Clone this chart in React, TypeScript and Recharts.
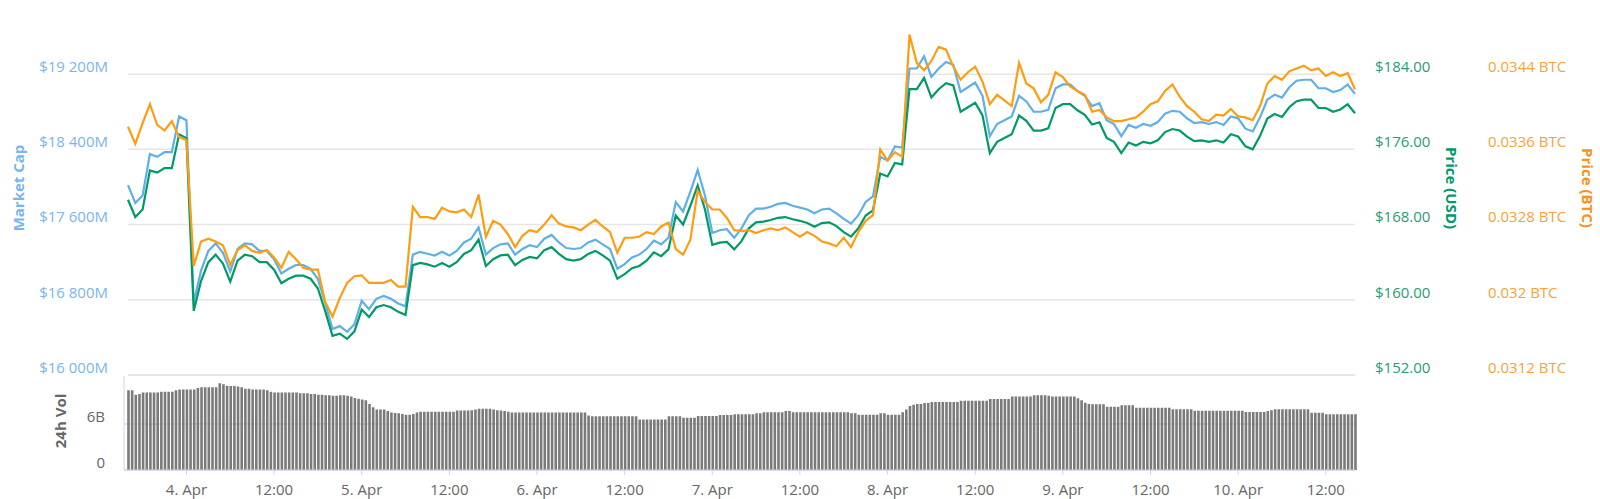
// ETH 7-day overview: market cap + USD/BTC price on three y-axes, 24h volume pane below.
// One point per hour (index = hours since 3 Apr 16:00), volume one bar per half hour.

import { Bar, CartesianGrid, ComposedChart, Line, ReferenceLine, XAxis, YAxis } from "recharts";

const FONT = '"Open Sans", "Noto Sans", sans-serif';

const marketCap = [
  18020, 17830, 17910, 18350, 18320, 18370, 18370, 18750, 18710, 16770, 17110, 17320,
  17400, 17300, 17100, 17340, 17400, 17390, 17320, 17320, 17230, 17080, 17130, 17170,
  17170, 17130, 17020, 16770, 16490, 16520, 16460, 16540, 16790, 16700, 16810, 16840,
  16810, 16760, 16730, 17280, 17310, 17290, 17270, 17310, 17270, 17320, 17410, 17450,
  17570, 17280, 17350, 17390, 17400, 17280, 17340, 17380, 17360, 17450, 17490, 17410,
  17350, 17340, 17350, 17410, 17440, 17390, 17340, 17130, 17180, 17250, 17280, 17340,
  17430, 17390, 17460, 17840, 17740, 17950, 18180, 17910, 17510, 17540, 17550, 17460,
  17560, 17700, 17770, 17770, 17790, 17820, 17830, 17800, 17780, 17760, 17720, 17760,
  17770, 17720, 17660, 17610, 17700, 17840, 17900, 18320, 18280, 18430, 18420, 19260,
  19260, 19390, 19170, 19260, 19330, 19300, 19010, 19060, 19110, 18970, 18540, 18670,
  18710, 18750, 18970, 18910, 18800, 18800, 18820, 19050, 19090, 19090, 19020, 18970,
  18860, 18890, 18710, 18670, 18540, 18660, 18630, 18670, 18650, 18690, 18780, 18810,
  18800, 18730, 18680, 18690, 18670, 18690, 18660, 18750, 18730, 18620, 18590, 18740,
  18930, 18980, 18950, 19060, 19130, 19140, 19140, 19050, 19050, 19010, 19030, 19090,
  18990,
];

const priceUsd = [
  170.64, 168.8, 169.6, 173.76, 173.52, 174.0, 174.0, 177.6, 177.2, 158.8, 162.0, 164.0,
  164.8, 163.84, 161.92, 164.16, 164.8, 164.64, 164.0, 164.0, 163.2, 161.76, 162.24, 162.56,
  162.56, 162.24, 161.2, 158.8, 156.16, 156.4, 155.84, 156.64, 158.96, 158.16, 159.2, 159.44,
  159.2, 158.72, 158.4, 163.68, 163.92, 163.76, 163.52, 163.92, 163.52, 164.0, 164.88, 165.28,
  166.4, 163.6, 164.32, 164.72, 164.8, 163.68, 164.24, 164.56, 164.4, 165.28, 165.6, 164.88,
  164.32, 164.16, 164.32, 164.88, 165.2, 164.72, 164.16, 162.24, 162.72, 163.36, 163.6, 164.16,
  165.04, 164.64, 165.36, 168.96, 168.0, 170.0, 172.16, 169.6, 165.84, 166.08, 166.16, 165.36,
  166.24, 167.6, 168.24, 168.32, 168.48, 168.72, 168.8, 168.56, 168.4, 168.16, 167.76, 168.16,
  168.24, 167.84, 167.2, 166.72, 167.6, 168.96, 169.52, 173.44, 173.12, 174.56, 174.4, 182.4,
  182.4, 183.6, 181.52, 182.4, 183.04, 182.8, 180.0, 180.48, 180.96, 179.6, 175.6, 176.8,
  177.2, 177.6, 179.6, 179.04, 178.0, 178.0, 178.24, 180.4, 180.8, 180.8, 180.16, 179.68,
  178.64, 178.88, 177.2, 176.8, 175.6, 176.72, 176.4, 176.8, 176.64, 176.96, 177.84, 178.16,
  178.0, 177.36, 176.88, 176.96, 176.8, 176.96, 176.72, 177.6, 177.36, 176.32, 176.0, 177.44,
  179.28, 179.76, 179.44, 180.48, 181.12, 181.28, 181.28, 180.4, 180.4, 180.0, 180.24, 180.8,
  179.84,
];

const priceBtc = [
  0.03384, 0.03366, 0.03388, 0.03408, 0.03386, 0.0338, 0.0339, 0.03373, 0.0337, 0.03236, 0.03262, 0.03265,
  0.03262, 0.03258, 0.03237, 0.03253, 0.03258, 0.03252, 0.0325, 0.03253, 0.03245, 0.03234, 0.03251, 0.03243,
  0.03234, 0.03232, 0.03232, 0.03198, 0.03182, 0.03202, 0.03218, 0.03225, 0.03226, 0.03218, 0.03218, 0.03218,
  0.03221, 0.03214, 0.03214, 0.03299, 0.03288, 0.03288, 0.03286, 0.03298, 0.03294, 0.03293, 0.03296, 0.03288,
  0.03312, 0.03267, 0.03284, 0.0328, 0.0327, 0.03256, 0.03268, 0.03274, 0.03272, 0.0328, 0.0329, 0.03281,
  0.03278, 0.03277, 0.03274, 0.0328, 0.03285, 0.03278, 0.03272, 0.0325, 0.03266, 0.03266, 0.03267, 0.03272,
  0.0327, 0.03278, 0.03282, 0.03254, 0.03248, 0.03264, 0.03316, 0.03304, 0.03296, 0.03296, 0.03287, 0.03274,
  0.03273, 0.03274, 0.03271, 0.03274, 0.03276, 0.03274, 0.03277, 0.03272, 0.03267, 0.03272, 0.03268, 0.03262,
  0.0326, 0.03257, 0.03266, 0.03256, 0.03272, 0.03284, 0.0329, 0.0336, 0.03348, 0.03357, 0.03352, 0.03482,
  0.03452, 0.03444, 0.03454, 0.03469, 0.03466, 0.03448, 0.03434, 0.03442, 0.03448, 0.03432, 0.03408, 0.03418,
  0.03412, 0.03406, 0.03452, 0.0343, 0.03425, 0.0341, 0.03418, 0.03442, 0.03437, 0.03427, 0.03422, 0.03418,
  0.034, 0.03402, 0.03394, 0.0339, 0.0339, 0.03392, 0.03394, 0.034, 0.03408, 0.03411, 0.03422, 0.03429,
  0.03416, 0.03406, 0.034, 0.03392, 0.0339, 0.03397, 0.03396, 0.03403, 0.03395, 0.03394, 0.03391, 0.03406,
  0.0343, 0.03438, 0.03434, 0.03443, 0.03446, 0.03449, 0.03444, 0.03446, 0.03438, 0.03442, 0.03438, 0.03441,
  0.03424,
];

// 24h volume in billions USD, every 30 minutes
const volume24h = [
  10.4, 10.4, 9.8, 9.9, 10.1, 10.1, 10.1, 10.1, 10.1, 10.2, 10.2, 10.2, 10.2, 10.4, 10.5, 10.5, 10.5, 10.5, 10.5, 10.7, 10.8, 10.8, 10.8, 10.8,
  10.8, 11.3, 11.2, 11.0, 10.95, 10.95, 10.9, 10.8, 10.6, 10.6, 10.5, 10.5, 10.5, 10.5, 10.4, 10.2, 10.1, 10.1, 10.1, 10.1, 10.1, 10.1, 10.1, 10.0,
  10.0, 10.0, 9.9, 9.9, 9.8, 9.8, 9.75, 9.75, 9.7, 9.7, 9.75, 9.75, 9.7, 9.6, 9.4, 9.3, 9.2, 9.1, 8.6, 8.2, 7.9, 7.9, 7.9, 7.7,
  7.5, 7.45, 7.4, 7.3, 7.2, 7.2, 7.3, 7.5, 7.6, 7.6, 7.6, 7.6, 7.6, 7.6, 7.6, 7.6, 7.6, 7.6, 7.75, 7.75, 7.75, 7.75, 7.8, 7.9,
  8.0, 8.0, 8.0, 8.0, 7.9, 7.8, 7.75, 7.7, 7.6, 7.5, 7.5, 7.5, 7.5, 7.5, 7.5, 7.5, 7.5, 7.5, 7.5, 7.5, 7.5, 7.5, 7.5, 7.5,
  7.5, 7.5, 7.5, 7.5, 7.5, 7.5, 7.1, 7.0, 7.0, 7.0, 7.0, 7.0, 7.0, 7.0, 7.0, 7.0, 7.0, 7.0, 7.0, 7.0, 6.6, 6.6, 6.6, 6.6,
  6.6, 6.6, 6.6, 6.6, 7.0, 7.0, 7.0, 7.0, 6.83, 6.83, 6.83, 6.83, 7.04, 7.04, 7.04, 7.04, 7.04, 7.04, 7.17, 7.17, 7.17, 7.17, 7.26, 7.26,
  7.26, 7.26, 7.26, 7.26, 7.39, 7.39, 7.52, 7.52, 7.52, 7.52, 7.52, 7.52, 7.7, 7.7, 7.52, 7.52, 7.52, 7.52, 7.52, 7.52, 7.52, 7.52, 7.52, 7.52,
  7.52, 7.52, 7.52, 7.52, 7.52, 7.52, 7.39, 7.39, 7.22, 7.22, 7.22, 7.22, 7.22, 7.22, 7.39, 7.39, 7.22, 7.22, 7.22, 7.22, 7.52, 7.9, 8.35, 8.5,
  8.6, 8.6, 8.74, 8.74, 8.87, 8.87, 8.87, 8.87, 8.87, 8.87, 8.87, 8.87, 9.04, 9.04, 9.04, 9.04, 9.04, 9.04, 9.04, 9.04, 9.26, 9.26, 9.26, 9.26,
  9.26, 9.26, 9.57, 9.57, 9.57, 9.57, 9.57, 9.57, 9.74, 9.74, 9.74, 9.74, 9.7, 9.6, 9.57, 9.57, 9.57, 9.57, 9.57, 9.57, 9.35, 9.1, 8.78, 8.6,
  8.57, 8.57, 8.57, 8.57, 8.26, 8.26, 8.26, 8.26, 8.43, 8.43, 8.43, 8.43, 8.13, 8.13, 8.13, 8.13, 8.13, 8.13, 8.13, 8.13, 8.13, 8.13, 7.91, 7.91,
  7.91, 7.91, 7.91, 7.91, 7.74, 7.74, 7.74, 7.74, 7.74, 7.74, 7.74, 7.74, 7.74, 7.74, 7.74, 7.74, 7.74, 7.74, 7.57, 7.57, 7.57, 7.57, 7.57, 7.57,
  7.7, 7.8, 7.91, 7.91, 7.91, 7.91, 7.91, 7.91, 7.91, 7.91, 7.91, 7.91, 7.48, 7.48, 7.48, 7.48, 7.26, 7.26, 7.26, 7.26, 7.26, 7.26, 7.26, 7.26,
  7.26,
];

// x ticks: hours since 3 Apr 16:00
const timeTicks = [8, 20, 32, 44, 56, 68, 80, 92, 104, 116, 128, 140, 152, 164];
const timeLabels = [
  "4. Apr", "12:00", "5. Apr", "12:00", "6. Apr", "12:00", "7. Apr",
  "12:00", "8. Apr", "12:00", "9. Apr", "12:00", "10. Apr", "12:00",
];
const capTicks = [16000, 16800, 17600, 18400, 19200];
const usdTicks = [152, 160, 168, 176, 184];
const btcTicks = [0.0312, 0.032, 0.0328, 0.0336, 0.0344];
const volTicks = [0, 6];

const BLUE = "#5fafe8";
const GREEN = "#009a69";
const ORANGE = "#ff9c10";

const priceRows = priceUsd.map((usd, i) => ({
  h: i,
  usd,
  cap: marketCap[i],
  btc: priceBtc[i],
}));
const volRows = volume24h.map((vol, j) => ({ h: j / 2, vol }));

const fmtCap = (v: number) =>
  `$${Math.floor(v / 1000)} ${String(v % 1000).padStart(3, "0")}M`;
const fmtUsd = (v: number) => `$${v.toFixed(2)}`;
const fmtBtc = (v: number) => `${Number(v.toFixed(4))} BTC`;
const fmtVol = (v: number) => (v === 0 ? "0" : `${v}B`);

// y tick labels sit a little above their grid line
function yTick(color: string, anchor: "start" | "end", fmt: (v: number) => string) {
  return (props: any) => (
    <text
      x={props.x}
      y={props.y - 7.5}
      dy="0.36em"
      textAnchor={anchor}
      fill={color}
      fontSize={15}
      fontFamily={FONT}
    >
      {fmt(props.payload.value)}
    </text>
  );
}

function timeTick(props: any) {
  const idx = timeTicks.indexOf(props.payload.value);
  return (
    <text x={props.x} y={props.y} dy="0.71em" textAnchor="middle" fill="#666" fontSize={15} fontFamily={FONT}>
      {timeLabels[idx]}
    </text>
  );
}

// cy is in the chart's own svg coordinates
function axisTitle(text: string, color: string, dx: number, cy: number, angle: number) {
  return (props: any) => {
    const vb = props.viewBox || { x: 0, y: 0 };
    const x = vb.x + dx;
    return (
      <text
        x={x}
        y={cy}
        transform={`rotate(${angle}, ${x}, ${cy})`}
        textAnchor="middle"
        dominantBaseline="central"
        fill={color}
        fontSize={15}
        fontWeight="bold"
        fontFamily={FONT}
      >
        {text}
      </text>
    );
  };
}

export default function App() {
  return (
    <div style={{ position: "absolute", left: 0, top: 0, width: 1600, height: 499, background: "#fff" }}>
      <div style={{ position: "absolute", left: 0, top: 0 }}>
        <ComposedChart width={1600} height={386} data={priceRows} margin={{ top: 29, right: 0, bottom: 11, left: 0 }}>
          <CartesianGrid yAxisId="cap" vertical={false} syncWithTicks stroke="#e6e6e6" strokeWidth={1.5} />
          <XAxis dataKey="h" type="number" domain={[0, 168]} hide />
          <YAxis
            yAxisId="cap"
            orientation="left"
            width={128}
            domain={[16000, 19680]}
            ticks={capTicks}
            interval={0}
            allowDataOverflow
            axisLine={false}
            tickLine={false}
            tickSize={0}
            tickMargin={20}
            tick={yTick("#7cb5ec", "end", fmtCap)}
            label={{ content: axisTitle("Market Cap", "#7cb5ec", 18, 188, -90) }}
          />
          <YAxis
            yAxisId="p1usd"
            orientation="right"
            width={115}
            domain={[152, 188.8]}
            ticks={usdTicks}
            interval={0}
            allowDataOverflow
            axisLine={false}
            tickLine={false}
            tickSize={0}
            tickMargin={20}
            tick={yTick("#2a9c74", "start", fmtUsd)}
            label={{ content: axisTitle("Price (USD)", GREEN, 97, 188, 90) }}
          />
          <YAxis
            yAxisId="p2btc"
            orientation="right"
            width={130}
            domain={[0.0312, 0.03488]}
            ticks={btcTicks}
            interval={0}
            allowDataOverflow
            axisLine={false}
            tickLine={false}
            tickSize={0}
            tickMargin={18}
            tick={yTick("#f8a33a", "start", fmtBtc)}
            label={{ content: axisTitle("Price (BTC)", "#f7931a", 118, 188, 90) }}
          />
          <ReferenceLine yAxisId="cap" y={16000} stroke="#e6e6e6" strokeWidth={1.5} />
          <Line yAxisId="cap" type="linear" dataKey="cap" stroke={BLUE} strokeWidth={2.2} dot={false} isAnimationActive={false} />
          <Line yAxisId="p1usd" type="linear" dataKey="usd" stroke={GREEN} strokeWidth={2.2} dot={false} isAnimationActive={false} />
          <Line yAxisId="p2btc" type="linear" dataKey="btc" stroke={ORANGE} strokeWidth={2.2} dot={false} isAnimationActive={false} />
        </ComposedChart>
      </div>
      <div style={{ position: "absolute", left: 0, top: 340 }}>
        <ComposedChart width={1600} height={159} data={volRows} margin={{ top: 36, right: 245, bottom: 0, left: 0 }}>
          <CartesianGrid vertical={false} syncWithTicks stroke="#c8c8c8" />
          <XAxis
            dataKey="h"
            type="number"
            domain={[-0.55, 168]}
            ticks={timeTicks}
            interval={0}
            height={29}
            axisLine={{ stroke: "#ccd6eb" }}
            tickLine={{ stroke: "#ccd6eb" }}
            tickSize={5}
            tickMargin={9}
            tick={timeTick}
          />
          <YAxis
            width={124}
            domain={[0, 12.26]}
            ticks={volTicks}
            interval={0}
            allowDataOverflow
            axisLine={{ stroke: "#ccd6eb" }}
            tickLine={false}
            tickSize={0}
            tickMargin={19}
            tick={yTick("#666", "end", fmtVol)}
            label={{ content: axisTitle("24h Vol", "#666", 60, 81, -90) }}
          />
          <Bar dataKey="vol" fill="#7a7a7a" barSize={2.6} isAnimationActive={false} />
        </ComposedChart>
      </div>
    </div>
  );
}
